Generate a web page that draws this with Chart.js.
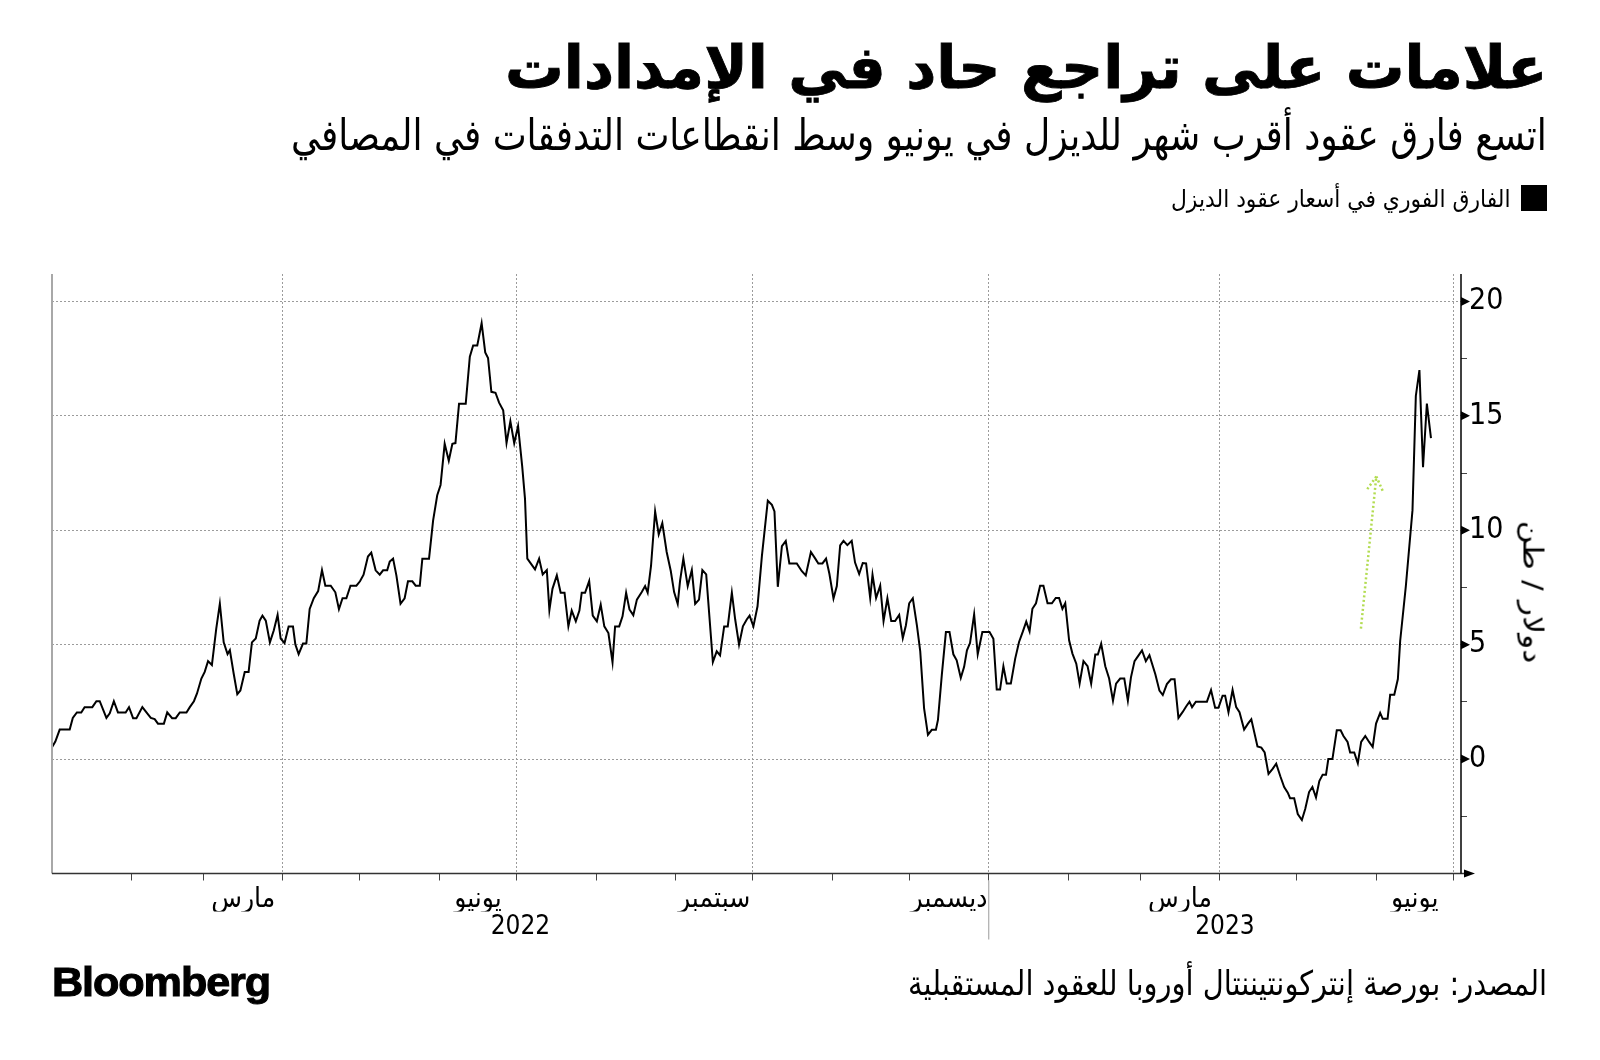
<!DOCTYPE html>
<html lang="ar">
<head>
<meta charset="utf-8">
<title>علامات على تراجع حاد في الإمدادات</title>
<script src="https://cdn.jsdelivr.net/npm/chart.js@4.4.1/dist/chart.umd.min.js"></script>
<style>
    html, body { margin: 0; padding: 0; background: #fff; }
    #page { position: relative; width: 1600px; height: 1060px; overflow: hidden; background: #fff; }
    #chart { position: absolute; left: 0; top: 0; }
    .t {
        position: absolute; display: inline-block; white-space: nowrap; line-height: 1; color: #000;
        font-family: "DejaVu Sans Condensed", "DejaVu Sans", sans-serif;
    }
    .rtl { direction: rtl; transform-origin: right center; }
    #title { right: 53px; top: 38px; font-size: 59px; font-weight: bold; -webkit-text-stroke: 0.8px #000; }
    #subtitle { right: 53px; top: 114px; font-size: 43px; }
    #legendBox { position: absolute; left: 1521px; top: 185px; width: 26px; height: 26px; background: #000; }
    #legendText { right: 90px; top: 187px; font-size: 24px; }
    #unit { left: 1533px; top: 592px; font-size: 27px; direction: rtl; transform-origin: center center; }
    #logo { left: 52px; top: 962px; font-family: "Liberation Sans", Arial, sans-serif; font-weight: bold; font-size: 40px; letter-spacing: -1px; -webkit-text-stroke: 1px #000; transform-origin: left center; }
    #source { right: 53px; top: 966px; font-size: 34px; }
</style>
</head>
<body>
<div id="page">
    <canvas id="chart" width="1600" height="1060"></canvas>
    <div class="t rtl" id="title">علامات على تراجع حاد في الإمدادات</div>
    <div class="t rtl" id="subtitle">اتسع فارق عقود أقرب شهر للديزل في يونيو وسط انقطاعات التدفقات في المصافي</div>
    <div id="legendBox"></div>
    <div class="t rtl" id="legendText">الفارق الفوري في أسعار عقود الديزل</div>
    <div class="t" id="unit">دولار / طن</div>
    <div class="t" id="logo">Bloomberg</div>
    <div class="t rtl" id="source">المصدر: بورصة إنتركونتيننتال أوروبا للعقود المستقبلية</div>
</div>
<script>
// days counted from 1 Jan 2022
var dayOffsets = [
    0, 1.3, 3, 6.9, 8.1, 9.7, 11.4, 12.7, 15.7, 17.3,
    18.6, 21.2, 22.5, 24.1, 25.7, 28.7, 30, 31.6, 32.9, 35.2,
    36.8, 38.5, 40, 41.3, 43.6, 44.9, 46.8, 48.2, 49.8, 52.4,
    53.7, 55.3, 56.5, 58.2, 59.5, 60.8, 62.3, 64, 65.4, 66.9,
    68.4, 69.3, 70.8, 72.2, 73.4, 75.1, 76.6, 77.9, 79.4, 80.9,
    82, 83.3, 84.9, 86.4, 87.9, 89.1, 90.6, 92.2, 93.9, 94.8,
    96.1, 97.8, 99.1, 100.4, 102, 103.7, 105.2, 106.5, 108.6, 110.4,
    111.8, 113.2, 114.7, 116.3, 118.6, 120, 121.4, 123.1, 124.4, 126.1,
    127.7, 129, 130.6, 131.6, 132.9, 134.2, 135.8, 137.4, 138.7, 140.4,
    141.7, 143.3, 144.3, 146.9, 148.5, 150.1, 151.4, 153, 154.6, 156,
    157.2, 158.6, 161.2, 162.8, 164.1, 165.7, 167.4, 168.8, 169.9, 171.2,
    172.8, 174.2, 175.8, 177.1, 178.6, 180.1, 181.6, 183.2, 184.3, 185.2,
    188.2, 189.8, 191.2, 192.8, 193.8, 195.0, 196.7, 198.2, 199.7, 201.2,
    202.5, 204.1, 205.5, 206.4, 207.7, 209.3, 210.7, 212.3, 213.8, 215.2,
    216.8, 218.4, 219.4, 221.0, 222.3, 223.7, 225.0, 226.5, 227.9, 229.8,
    231.1, 232.1, 233.4, 235.0, 236.4, 237.8, 239.5, 241.1, 242.4, 243.8,
    244.7, 246.0, 247.7, 249.3, 250.6, 252.1, 253.4, 254.9, 257.5, 259.0,
    260.3, 261.9, 263.3, 264.9, 266.2, 267.7, 269.2, 270.7, 271.8, 273.3,
    274.9, 276.6, 278.9, 280.5, 281.5, 282.8, 284.4, 285.9, 287.3, 290.2,
    292.1, 293.7, 295.7, 297.4, 298.6, 300.2, 301.6, 302.9, 304.5, 305.8,
    307.1, 308.4, 309.9, 311.6, 312.9, 314.5, 315.9, 317.2, 318.8, 319.7,
    321.1, 322.7, 324.0, 325.5, 327.0, 328.5, 330.1, 331.5, 332.7, 334.0,
    335.4, 337.0, 338.3, 339.8, 341.3, 342.8, 344.4, 345.2, 346.7, 348.3,
    349.7, 351.2, 352.5, 354.1, 355.4, 356.5, 357.7, 359.3, 360.7, 362.5,
    365.3, 366.8, 368.1, 369.4, 370.7, 372.0, 373.6, 375.3, 376.8, 378.3,
    379.6, 380.9, 382.0, 383.4, 385.0, 386.3, 387.9, 389.6, 391.1, 392.4,
    393.7, 394.8, 396.3, 397.6, 399.1, 400.4, 401.9, 403.5, 404.9, 406.5,
    407.5, 408.8, 410.4, 411.9, 413.4, 414.6, 416.2, 417.8, 419.2, 420.4,
    421.8, 423.1, 424.7, 426.2, 427.6, 429.9, 431.5, 432.8, 434.4, 436.0,
    437.4, 438.9, 440.5, 441.9, 443.2, 444.2, 445.7, 450.0, 451.6, 453.2,
    454.5, 456.1, 457.1, 458.4, 460.0, 461.4, 462.7, 464.5, 466.0, 467.3,
    469.7, 471.2, 472.5, 474.0, 475.6, 477.0, 478.6, 480.1, 481.5, 482.4,
    484.0, 485.4, 487.0, 488.3, 489.8, 491.1, 492.5, 493.8, 495.1, 496.4,
    497.3, 498.9, 500.6, 502.1, 503.2, 504.8, 505.8, 507.4, 508.8, 510.1,
    511.7, 513.2, 514.6, 515.9, 517.5, 518.5, 520.4, 521.4, 523.0, 524.4,
    525.3, 527.5, 530.1, 531.4, 532.8, 534.2, 535.7, 537.3
];

// diesel prompt spread, $/t
var spread = [
    0.52, 0.77, 1.29, 1.29, 1.8, 2.04, 2.04, 2.27, 2.27, 2.53,
    2.53, 1.8, 2.0, 2.53, 2.04, 2.04, 2.27, 1.79, 1.79, 2.27,
    2.04, 1.8, 1.75, 1.55, 1.55, 2.04, 1.79, 1.79, 2.04, 2.04,
    2.27, 2.53, 2.87, 3.52, 3.81, 4.28, 4.11, 5.7, 6.79, 5.1,
    4.59, 4.76, 3.73, 2.84, 3.0, 3.81, 3.81, 5.1, 5.27, 6.05,
    6.27, 6.05, 5.1, 5.62, 6.3, 5.27, 5.07, 5.79, 5.79, 5.02,
    4.59, 5.05, 5.05, 6.56, 7.03, 7.34, 8.26, 7.58, 7.58, 7.29,
    6.55, 7.03, 7.03, 7.58, 7.58, 7.77, 8.06, 8.85, 9.02, 8.25,
    8.06, 8.25, 8.25, 8.63, 8.76, 8.02, 6.79, 7.03, 7.77, 7.77,
    7.58, 7.58, 8.76, 8.76, 10.43, 11.53, 11.98, 13.78, 13.04, 13.78,
    13.81, 15.53, 15.53, 17.59, 18.08, 18.08, 19.05, 17.77, 17.53, 16.05,
    16.01, 15.58, 15.24, 13.81, 14.76, 13.81, 14.55, 12.8, 11.37, 8.76,
    8.29, 8.76, 8.07, 8.26, 6.51, 7.44, 8.03, 7.27, 7.27, 5.80,
    6.49, 6.02, 6.49, 7.27, 7.27, 7.78, 6.27, 6.02, 6.75, 5.80,
    5.51, 4.23, 5.80, 5.80, 6.24, 7.27, 6.54, 6.29, 6.97, 7.30,
    7.56, 7.27, 8.44, 10.82, 9.82, 10.31, 9.05, 8.22, 7.30, 6.78,
    7.78, 8.76, 7.56, 8.26, 6.78, 6.97, 8.26, 8.07, 4.24, 4.71,
    4.53, 5.80, 5.80, 7.27, 6.10, 5.00, 5.80, 6.10, 6.27, 5.80,
    6.68, 8.87, 11.29, 11.11, 10.82, 7.53, 9.31, 9.53, 8.55, 8.55,
    8.22, 8.03, 9.05, 8.76, 8.55, 8.55, 8.76, 8.10, 7.02, 7.56,
    9.34, 9.54, 9.35, 9.54, 8.59, 8.09, 8.57, 8.55, 7.04, 8.06,
    7.04, 7.58, 6.03, 7.03, 6.03, 6.03, 6.30, 5.29, 5.84, 6.81,
    7.03, 5.84, 4.71, 2.22, 1.06, 1.28, 1.28, 1.71, 3.67, 5.55,
    5.55, 4.58, 4.32, 3.55, 4.03, 4.75, 5.07, 6.32, 4.58, 5.55,
    5.55, 5.26, 3.04, 3.04, 4.06, 3.30, 3.30, 4.39, 5.12, 5.58,
    6.01, 5.58, 6.57, 6.81, 7.58, 7.58, 6.81, 6.81, 7.04, 7.04,
    6.57, 6.81, 5.19, 4.61, 4.17, 3.30, 4.28, 4.06, 3.30, 4.57,
    4.57, 5.04, 4.06, 3.52, 2.55, 3.30, 3.52, 3.52, 2.55, 3.57,
    4.28, 4.49, 4.75, 4.28, 4.54, 3.71, 2.99, 2.80, 3.28, 3.49,
    3.49, 1.80, 2.05, 2.30, 2.51, 2.27, 2.51, 2.51, 3.02, 2.24,
    2.24, 2.77, 2.77, 2.05, 3.02, 2.27, 2.05, 1.29, 1.55, 1.74,
    0.55, 0.50, 0.29, -0.65, -0.43, -0.20, -0.75, -1.22, -1.47, -1.71,
    -1.71, -2.40, -2.66, -2.18, -1.44, -1.22, -1.68, -0.96, -0.68, -0.68,
    0.00, 0.00, 1.26, 1.26, 1.01, 0.75, 0.29, 0.29, -0.18, 0.75,
    1.01, 0.75, 0.53, 1.55, 2.02, 1.76, 1.76, 2.81, 2.81, 3.50,
    5.16, 7.55, 10.88, 15.87, 17.00, 12.76, 15.54, 14.03
];

var gridDates = ['2022-04-01', '2022-07-01', '2022-10-01', '2023-01-01', '2023-04-01', '2023-07-01'];
var labelMonths = ['2022-03', '2022-06', '2022-09', '2022-12', '2023-03', '2023-06'];
var monthLabels = ['مارس', 'يونيو', 'سبتمبر', 'ديسمبر', 'مارس', 'يونيو'];
var yearLabels = ['2022', '2023'];
var yTicks = [0, 5, 10, 15, 20];
var yMinorTicks = [-2.5, 2.5, 7.5, 12.5, 17.5];

// green arrow note: [day, value]
var arrowTail = [510, 5.7];
var arrowHead = [516, 12.35];

var FONT = '"DejaVu Sans Condensed", "DejaVu Sans", sans-serif';
var CLEAR = 'rgba(0,0,0,0)';

function dayOf(iso) {
    return (Date.parse(iso) - Date.parse('2022-01-01')) / 864e5;
}

// middle of a 'YYYY-MM' month, where its label sits
function midMonth(ym) {
    var y = +ym.slice(0, 4), m = +ym.slice(5, 7);
    var a = (Date.UTC(y, m - 1, 1) - Date.UTC(2022, 0, 1)) / 864e5;
    var b = (Date.UTC(y, m, 1) - Date.UTC(2022, 0, 1)) / 864e5;
    return (a + b) / 2;
}

var xStart = dayOf('2022-01-01');
var xEnd = dayOf('2023-07-04');
var yearStart2023 = dayOf('2023-01-01');
var gridDays = gridDates.map(dayOf);
var labelDays = labelMonths.map(midMonth);
var yearMids = [(xStart + yearStart2023) / 2, (yearStart2023 + xEnd) / 2];

var monthDays = [];
for (var m = 1; m <= 18; m++) {
    monthDays.push((Date.UTC(2022, m, 1) - Date.UTC(2022, 0, 1)) / 864e5);
}
var xTickValues = monthDays.concat(labelDays).sort(function (p, q) { return p - q; });

var points = dayOffsets.map(function (d, i) {
    return {x: d, y: spread[i]};
});

function line(ctx, x1, y1, x2, y2) {
    ctx.beginPath();
    ctx.moveTo(x1, y1);
    ctx.lineTo(x2, y2);
    ctx.stroke();
}

var decor = {
    id: 'decor',
    afterDraw: function (chart) {
        var ctx = chart.ctx, a = chart.chartArea;
        var x = chart.scales.x, y = chart.scales.y;
        ctx.save();
        ctx.setLineDash([]);

        ctx.strokeStyle = '#a8a8a8';
        ctx.lineWidth = 2;
        line(ctx, a.left, a.top, a.left, a.bottom);

        ctx.strokeStyle = '#333';
        ctx.lineWidth = 1.5;
        line(ctx, a.left, a.bottom, a.right + 5, a.bottom);
        ctx.fillStyle = '#000';
        ctx.beginPath();
        ctx.moveTo(a.right + 3, a.bottom - 4);
        ctx.lineTo(a.right + 14, a.bottom);
        ctx.lineTo(a.right + 3, a.bottom + 4);
        ctx.closePath();
        ctx.fill();

        ctx.strokeStyle = '#000';
        line(ctx, a.right, a.top, a.right, a.bottom);
        yTicks.forEach(function (v) {
            var py = y.getPixelForValue(v);
            ctx.beginPath();
            ctx.moveTo(a.right, py - 4.5);
            ctx.lineTo(a.right + 9, py);
            ctx.lineTo(a.right, py + 4.5);
            ctx.closePath();
            ctx.fill();
        });

        // year divider under the axis
        var px = x.getPixelForValue(yearStart2023);
        ctx.strokeStyle = '#9a9a9a';
        ctx.lineWidth = 1;
        line(ctx, px, a.bottom + 7, px, a.bottom + 66);

        // dotted arrow
        var tx = x.getPixelForValue(arrowTail[0]), ty = y.getPixelForValue(arrowTail[1]);
        var hx = x.getPixelForValue(arrowHead[0]), hy = y.getPixelForValue(arrowHead[1]);
        var ang = Math.atan2(ty - hy, tx - hx);
        ctx.strokeStyle = '#b3dc52';
        ctx.lineWidth = 2.5;
        ctx.setLineDash([2, 2.5]);
        line(ctx, tx, ty, hx, hy);
        [-0.52, 0.52].forEach(function (d) {
            line(ctx, hx, hy, hx + 18 * Math.cos(ang + d), hy + 18 * Math.sin(ang + d));
        });
        ctx.restore();
    }
};

Chart.defaults.font.family = FONT;
Chart.defaults.color = '#000';

var chart = new Chart(document.getElementById('chart'), {
    type: 'line',
    data: {
        datasets: [{
            data: points,
            borderColor: '#000',
            borderWidth: 2,
            pointRadius: 0,
            tension: 0,
            fill: false
        }]
    },
    options: {
        responsive: false,
        animation: false,
        devicePixelRatio: 1,
        layout: {padding: {left: 52, top: 274, right: 79, bottom: 118.5}},
        plugins: {legend: {display: false}, tooltip: {enabled: false}},
        scales: {
            x: {
                type: 'linear', position: 'bottom', min: xStart, max: xEnd, weight: 0,
                afterBuildTicks: function (s) {
                    s.ticks = xTickValues.map(function (v) { return {value: v}; });
                },
                afterFit: function (s) { s.height = 38; },
                grid: {
                    color: function (c) {
                        return c.tick && gridDays.indexOf(c.tick.value) >= 0 ? '#9b9b9b' : CLEAR;
                    },
                    tickColor: function (c) {
                        return c.tick && monthDays.indexOf(c.tick.value) >= 0 ? '#444' : CLEAR;
                    },
                    lineWidth: 1,
                    tickLength: 7
                },
                border: {display: false, dash: [2, 2]},
                ticks: {
                    autoSkip: false, maxRotation: 0, padding: 2,
                    color: '#000', font: {size: 28},
                    callback: function (v) {
                        var i = labelDays.indexOf(v);
                        return i >= 0 ? monthLabels[i] : '';
                    }
                }
            },
            x2: {
                type: 'linear', position: 'bottom', min: xStart, max: xEnd, weight: 1,
                afterBuildTicks: function (s) {
                    s.ticks = yearMids.map(function (v) { return {value: v}; });
                },
                afterFit: function (s) { s.height = 30; },
                grid: {display: false, drawTicks: false, tickLength: 0},
                border: {display: false},
                ticks: {
                    autoSkip: false, maxRotation: 0, padding: 0, color: '#000', font: {size: 26},
                    callback: function (v, i) { return yearLabels[i]; }
                }
            },
            y: {
                type: 'linear', position: 'right', min: -5, max: 21.2,
                afterBuildTicks: function (s) {
                    s.ticks = yMinorTicks.concat(yTicks).sort(function (p, q) { return p - q; })
                        .map(function (v) { return {value: v}; });
                },
                afterFit: function (s) { s.width = 60; },
                grid: {
                    color: function (c) {
                        return c.tick && yTicks.indexOf(c.tick.value) >= 0 ? '#9b9b9b' : CLEAR;
                    },
                    tickColor: function (c) {
                        return c.tick && yTicks.indexOf(c.tick.value) >= 0 ? CLEAR : '#444';
                    },
                    lineWidth: 1,
                    tickLength: 6
                },
                border: {display: false, dash: [2, 2]},
                ticks: {
                    padding: 2, color: '#000', font: {size: 30},
                    callback: function (v) {
                        return yTicks.indexOf(v) >= 0 ? String(v) : '';
                    }
                }
            }
        }
    },
    plugins: [decor]
});

// squeeze the text blocks to the widths they take in the original
function fitWidth(id, target, pre) {
    var el = document.getElementById(id);
    var k = target / el.offsetWidth;
    el.style.transform = (pre || '') + ' scaleX(' + k + ')';
}

document.fonts.ready.then(function () {
    fitWidth('title', 1042);
    fitWidth('subtitle', 1256);
    fitWidth('legendText', 339);
    fitWidth('source', 639);
    fitWidth('logo', 218);
    fitWidth('unit', 143, 'translate(-50%, -50%) rotate(90deg)');
});
</script>
</body>
</html>
